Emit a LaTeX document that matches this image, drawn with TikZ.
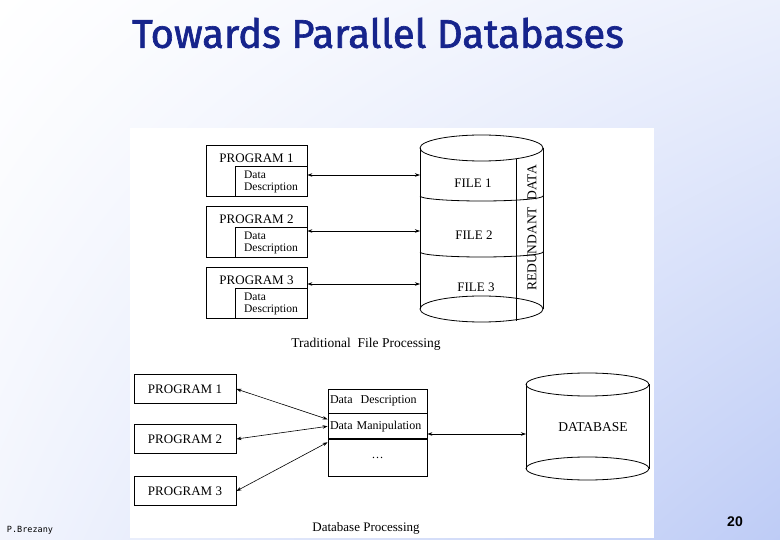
\documentclass[tikz,border=0pt]{standalone}
\usepackage{fontspec}
\setmainfont{Liberation Serif}
\newfontfamily\titlefont[FakeBold=1.6]{Fira Sans}
\newfontfamily\footfont{DejaVu Sans Mono}
\newfontfamily\numfont{Liberation Sans}
\usetikzlibrary{arrows.meta,positioning,shadings}
\definecolor{slideblue}{RGB}{190,204,246}
\definecolor{titleblue}{RGB}{22,36,140}

\begin{document}
\begin{tikzpicture}[x=1pt,y=-1pt,
    >={Stealth[length=5pt,width=3.5pt]},
    every node/.style={font=\fontsize{13}{14}\selectfont},
    progbox/.style={draw, line width=0.8pt, minimum width=101pt, minimum height=51pt, inner sep=0pt},
    ddbox/.style={draw, line width=0.8pt, minimum width=72pt, minimum height=30pt, inner sep=0pt,
        align=left, font=\fontsize{11.5}{12}\selectfont},
    qbox/.style={draw, line width=0.8pt, minimum width=102pt, minimum height=29pt, inner sep=0pt},
    rowbox/.style={draw, line width=0.8pt, minimum width=99pt, text width=95pt, inner sep=2pt, align=left,
        font=\fontsize{12}{13}\selectfont},
    link/.style={<->, line width=0.6pt},
    cyl/.style={line width=0.8pt}]

    % slide background
    \useasboundingbox (0pt,0pt) rectangle (780pt,-540pt);
    \shade[upper left=white, upper right=white!70!slideblue, lower left=slideblue!20!white, lower right=slideblue]
        (0pt,0pt) rectangle (780pt,-540pt);
    \fill[white] (130,128) rectangle (654,538);

    \node[font=\titlefont\fontsize{40}{44}\selectfont, text=titleblue] (title) at (378,33) {Towards Parallel Databases};

    % traditional file processing
    \def\xcl{420};
    \def\xcr{543};
    \def\xcm{481.5};
    \def\rcx{61.5};

    \foreach \i/\y/\a in {1/171/175, 2/232/231, 3/293/284} {
        \node[progbox] (p\i) at (256.5,\y) {};
        \node (pl\i) at ([yshift=-13pt]p\i.north) {PROGRAM \i};
        \node[ddbox, anchor=south east] (d\i) at (p\i.south east) {Data\\Description};
        \coordinate (f\i) at (\xcl,\a);
        \draw[link] (f\i -| d\i.east) -- (f\i);
    }

    \draw[cyl] (\xcm,148) ellipse [x radius=\rcx, y radius=13];
    \draw[cyl] (\xcl,148) -- (\xcl,309);
    \draw[cyl] (\xcr,148) -- (\xcr,309);
    \draw[cyl] (\xcm,309) ellipse [x radius=\rcx, y radius=13];
    \draw[cyl] (\xcl,196) arc[start angle=180, end angle=0, x radius=\rcx, y radius=5];
    \draw[cyl] (\xcl,252) arc[start angle=180, end angle=0, x radius=\rcx, y radius=5];
    \draw[cyl] (516,159) -- (516,321);

    \node (file1) at (473,183) {FILE 1};
    \node (file2) at (474,235) {FILE 2};
    \node (file3) at (476,287) {FILE 3};
    \node[rotate=90, font=\fontsize{13.5}{14}\selectfont] (red) at (532,228) {REDUNDANT\ \ DATA};

    \node[font=\fontsize{13.5}{14}\selectfont] (cap1) at (366,344) {Traditional\ \ File Processing};

    % database processing
    \foreach \i/\y in {1/389, 2/439, 3/491} {
        \node[qbox] (q\i) at (185,\y) {PROGRAM \i};
    }

    \node[rowbox, minimum height=24pt] (ddesc) at (377.5,401) {Data\ \ Description};
    \node[rowbox, minimum height=25pt, below=0pt of ddesc] (dman) {Data Manipulation};
    \node[rowbox, minimum height=37pt, below=0pt of dman, align=center] (dmore) {\dots};

    \draw[link] (q1.east) -- ([yshift=7pt]dman.west);
    \draw[link] (q2.east) -- (dman.west);
    \draw[link] (q3.east) -- ([yshift=-16pt]dman.west);

    \def\xdl{526};
    \def\xdr{649};
    \def\xdm{587.5};

    \draw[cyl] (\xdm,384.5) ellipse [x radius=\rcx, y radius=11.5];
    \draw[cyl] (\xdl,384.5) -- (\xdl,468.5);
    \draw[cyl] (\xdr,384.5) -- (\xdr,468.5);
    \draw[cyl] (\xdm,468.5) ellipse [x radius=\rcx, y radius=11.5];
    \node[font=\fontsize{13.5}{14}\selectfont] (db) at (593,427) {DATABASE};

    \coordinate (dbw) at (\xdl,434);
    \draw[link] (dbw -| dman.east) -- (dbw);

    \node (cap2) at (366,528) {Database Processing};

    % footer
    \node[font=\footfont\fontsize{8.5}{9}\selectfont] (author) at (30,530) {P.Brezany};
    \node[font=\numfont\bfseries\fontsize{14}{15}\selectfont] (page) at (735,522) {20};
\end{tikzpicture}
\end{document}
